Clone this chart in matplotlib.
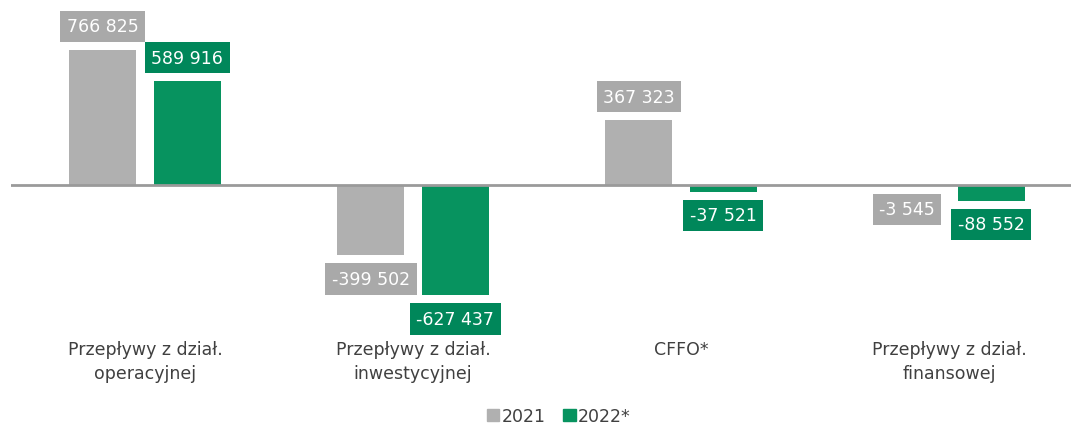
import matplotlib.pyplot as plt
from matplotlib.patches import Patch
import numpy as np

categories = ["Przepływy z dział.\noperacyjnej", "Przepływy z dział.\ninwestycyjnej",
              "CFFO*", "Przepływy z dział.\nfinansowej"]
v2021 = [766825, -399502, 367323, -3545]
v2022 = [589916, -627437, -37521, -88552]
series_labels = ["2021", "2022*"]

grey = "#b0b0b0"
green = "#07935f"
grey_box = "#a9a9a9"
green_box = "#00875a"

plt.rcParams["font.family"] = ["DejaVu Sans"]

def fmt(v):
    s = "{:,}".format(abs(v)).replace(",", " ")
    return ("-" if v < 0 else "") + s

fig = plt.figure(figsize=(10.71, 4.27), dpi=100)
ax = fig.add_axes([11 / 1071, 97 / 427, 1060 / 1071, 330 / 427])

x = np.arange(len(categories))
w = 0.25
off = 0.157
b1 = ax.bar(x - off, v2021, w, color=grey)
b2 = ax.bar(x + off, v2022, w, color=green)
ax.axhline(0, color="#9a9a9a", lw=2, zorder=3)

# value labels in coloured boxes just past the end of each bar
for bars, vals, bc in [(b1, v2021, grey_box), (b2, v2022, green_box)]:
    for b, v in zip(bars, vals):
        cx = b.get_x() + b.get_width() / 2
        dy = 17 if v >= 0 else -17
        ax.annotate(fmt(v), (cx, v), xytext=(0, dy), textcoords="offset points",
                    ha="center", va="center", color="white", fontsize=12.5,
                    bbox=dict(boxstyle="square,pad=0.38", fc=bc, ec="none"), zorder=4)

ax.set_xlim(-0.5, 3.455)
ax.set_ylim(-817920, 1056480)
ax.set_xticks(x)
ax.set_xticklabels(categories, fontsize=12.5, color="#404040", linespacing=1.4)
ax.tick_params(axis="x", length=0, pad=8)
ax.set_yticks([])
for s in ax.spines.values():
    s.set_visible(False)

handles = [Patch(color=grey), Patch(color=green)]
fig.legend(handles, series_labels, loc="lower center", bbox_to_anchor=(0.522, -0.035),
           ncol=2, frameon=False, fontsize=12.5, handlelength=0.7, handleheight=0.7,
           handletextpad=0.15, columnspacing=1.0, labelcolor="#404040")

fig.savefig("out.png", dpi=100)
